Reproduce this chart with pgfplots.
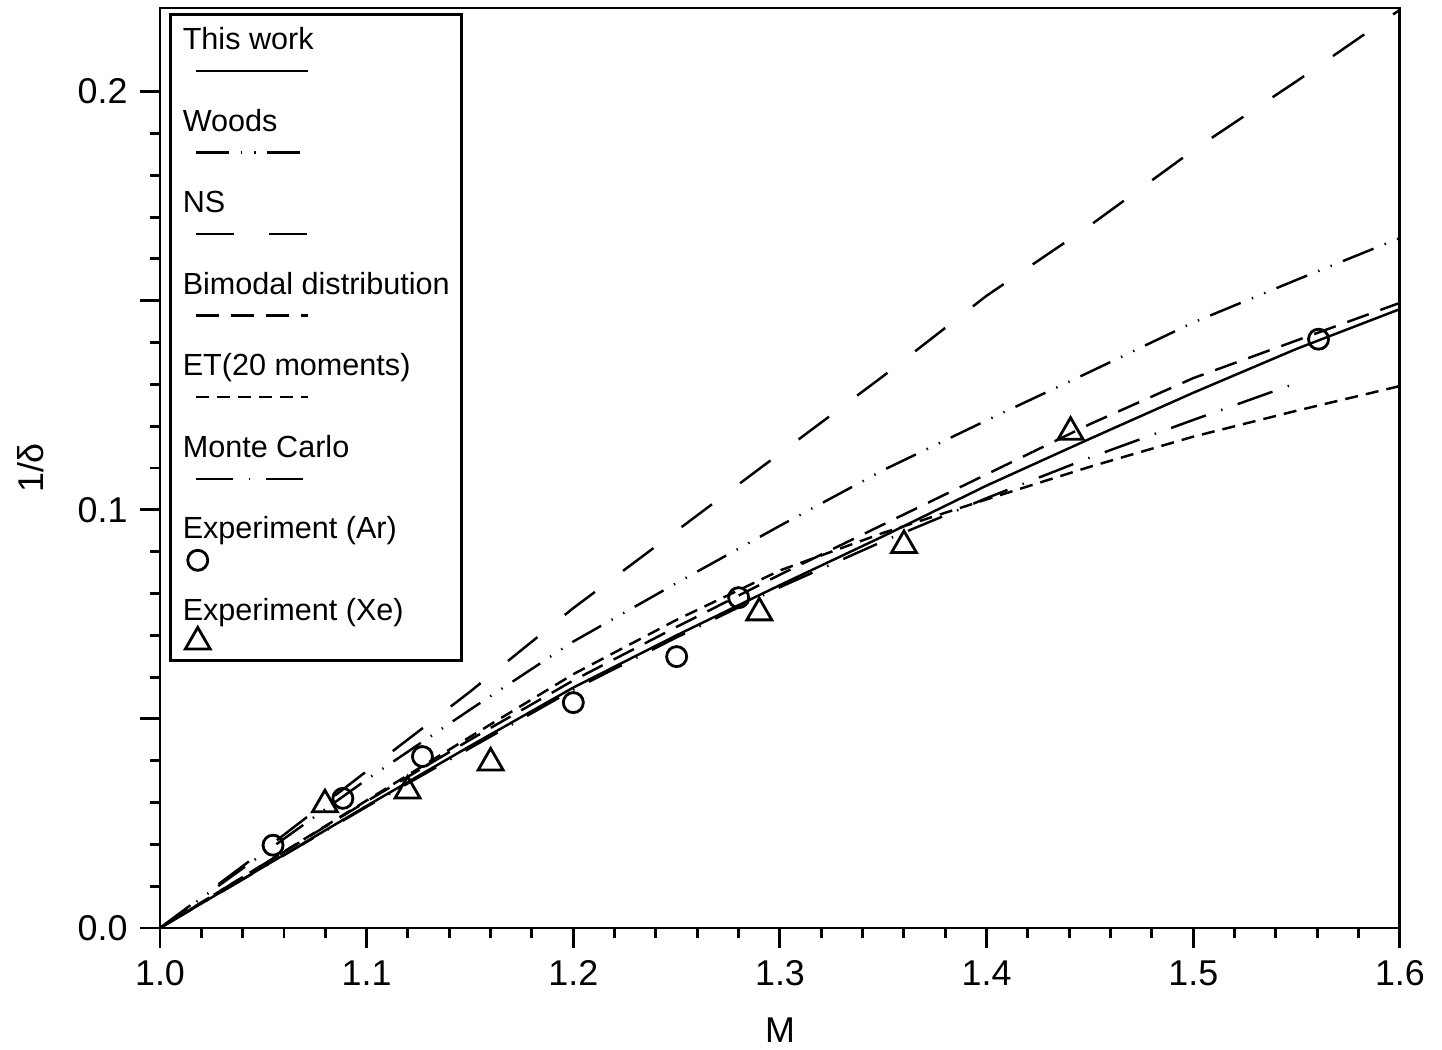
\documentclass[border=0pt]{standalone}
\usepackage{fontspec}
\setmainfont{Liberation Sans}
\usepackage{pgfplots}
\pgfplotsset{compat=1.18}

\pgfplotsset{
  legline/.style={legend image code/.code={
    \draw[##1,overlay] (0.20cm,-8.5pt) -- (1.32cm,-8.5pt);
    \path[draw=none,fill=none] (0,7.6pt) (0,-13.8pt);}},
  legmark/.style={legend image code/.code={
    \draw[##1,overlay] plot coordinates {(0.22cm,-8.5pt)};
    \path[draw=none,fill=none] (0,7.6pt) (0,-13.8pt);}},
}

\begin{document}
\begin{tikzpicture}
\useasboundingbox (-1.60cm,-1.22cm) rectangle (12.82cm,9.28cm);
\begin{axis}[
    scale only axis,
    width=12.4cm, height=9.2cm,
    xmin=1.0, xmax=1.6, ymin=0, ymax=0.22,
    xtick={1.0,1.1,1.2,1.3,1.4,1.5,1.6},
    xticklabels={1.0,1.1,1.2,1.3,1.4,1.5,1.6},
    ytick={0,0.05,0.1,0.15,0.2},
    yticklabels={0.0,,0.1,,0.2},
    minor x tick num=4, minor y tick num=4,
    tick align=outside,
    xtick pos=bottom, ytick pos=left,
    major tick length=0.2cm, minor tick length=0.1cm,
    axis line style={line width=0.85pt},
    every tick/.style={black, line width=0.85pt},
    tick label style={font=\fontsize{10.2}{12}\selectfont},
    label style={font=\fontsize{10.2}{12}\selectfont},
    xlabel={M}, ylabel={1/δ},
    xlabel style={yshift=-0.08cm},
    ylabel style={yshift=0.1cm},
    legend cell align=left,
    legend style={at={(0,1)}, anchor=north west, xshift=0.09cm, yshift=-0.05cm,
      draw=black, line width=0.85pt, inner xsep=1.5pt, inner ysep=0pt,
      font=\fontsize{8.7}{10}\selectfont, row sep=1.8pt},
    every axis plot/.append style={line width=0.7pt, black},
]
% This work
\addplot[solid, legline] coordinates {
  (1.0,0) (1.05,0.0146) (1.1,0.0292) (1.15,0.0435) (1.2,0.0575) (1.25,0.0700)
  (1.3,0.0820) (1.35,0.0937) (1.4,0.1058) (1.45,0.1170) (1.5,0.1280)
  (1.55,0.1385) (1.6,0.1480)};
\addlegendentry{This work}
% Woods
\addplot[legline, dash pattern=on 9.4pt off 3.4pt on 0.4pt off 3.4pt on 0.4pt off 3.4pt] coordinates {
  (1.0,0) (1.05,0.0178) (1.1,0.0355) (1.15,0.0522) (1.2,0.0685) (1.25,0.0825)
  (1.3,0.0962) (1.35,0.1095) (1.4,0.1214) (1.45,0.1330) (1.5,0.1448)
  (1.55,0.1550) (1.6,0.1650)};
\addlegendentry{Woods}
% NS
\addplot[legline, dash pattern=on 10.8pt off 10pt] coordinates {
  (1.0,0) (1.05,0.0185) (1.1,0.0375) (1.15,0.0565) (1.2,0.0765) (1.25,0.0950)
  (1.3,0.1135) (1.35,0.1320) (1.4,0.1512) (1.45,0.1680) (1.5,0.1860)
  (1.55,0.2025) (1.6,0.2196)};
\addlegendentry{NS}
% Bimodal distribution
\addplot[legline, dash pattern=on 6.5pt off 3.5pt] coordinates {
  (1.0,0) (1.05,0.0152) (1.1,0.0303) (1.15,0.0450) (1.2,0.0592) (1.25,0.0720)
  (1.3,0.0845) (1.35,0.0965) (1.4,0.1085) (1.45,0.1205) (1.5,0.1315)
  (1.55,0.1405) (1.6,0.1495)};
\addlegendentry{Bimodal distribution}
% ET(20 moments)
\addplot[legline, dash pattern=on 3.7pt off 2.3pt] coordinates {
  (1.0,0) (1.05,0.0152) (1.1,0.0305) (1.15,0.0457) (1.2,0.0607) (1.25,0.0737)
  (1.3,0.0855) (1.35,0.0945) (1.4,0.1025) (1.45,0.1103) (1.5,0.1175)
  (1.55,0.1237) (1.6,0.1296)};
\addlegendentry{ET(20 moments)}
% Monte Carlo
\addplot[legline, dash pattern=on 10.5pt off 4.6pt on 0.4pt off 4.6pt] coordinates {
  (1.0,0) (1.05,0.0145) (1.1,0.0290) (1.15,0.0430) (1.2,0.0570) (1.25,0.0695)
  (1.3,0.0815) (1.35,0.0925) (1.4,0.1028) (1.45,0.1125) (1.5,0.1215)
  (1.55,0.1303)};
\addlegendentry{Monte Carlo}
% Experiment (Ar)
\addplot[legmark, only marks, mark=o, mark size=2.85pt, line width=0.8pt] coordinates {
  (1.0547,0.0198) (1.0885,0.0310) (1.127,0.0410) (1.2,0.0539)
  (1.25,0.0649) (1.28,0.0790) (1.5606,0.1408)};
\addlegendentry{Experiment (Ar)}
% Experiment (Xe)
\addplot[legmark, only marks, mark=triangle, mark size=4.1pt, line width=0.8pt] coordinates {
  (1.0798,0.0295) (1.1198,0.0328) (1.16,0.0395) (1.29,0.0754)
  (1.36,0.0915) (1.4406,0.1186)};
\addlegendentry{Experiment (Xe)}
\end{axis}
\end{tikzpicture}
\end{document}
